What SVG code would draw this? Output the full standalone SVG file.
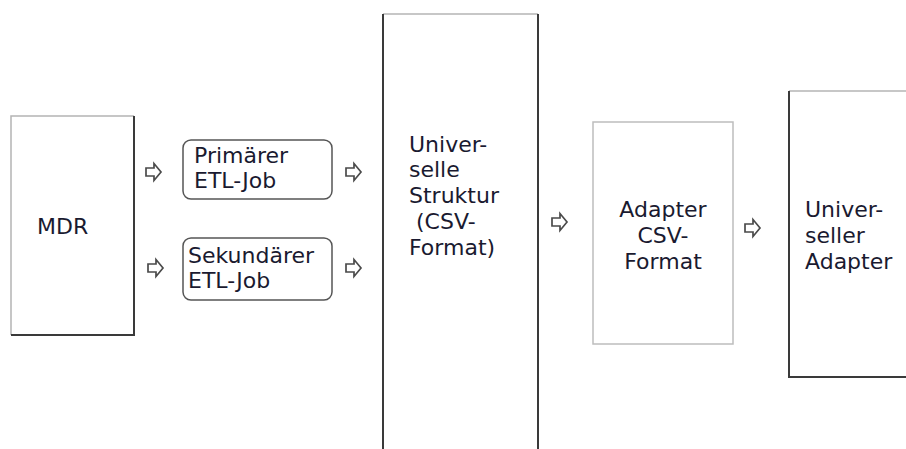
<svg xmlns="http://www.w3.org/2000/svg" width="906" height="449" viewBox="0 0 906 449">
<defs>
<style>
.t{font-family:"DejaVu Sans",Verdana,sans-serif;font-size:22px;fill:#1a1a30}
.lt{stroke:#b4b4b4;stroke-width:1.5;fill:none}
.dk{stroke:#3a3a3a;stroke-width:2;fill:none}
.rb{fill:#fff;stroke:#555;stroke-width:1.5}
.ar{fill:#fff;stroke:#4a4a4a;stroke-width:1.7;stroke-linejoin:miter}
</style>
<path id="arr" d="M0,-4 H8 V-8.5 L15,0 L8,8.5 V4 H0 Z"/>
</defs>
<rect width="906" height="449" fill="#fff"/>
<g id="mdr">
<path class="lt" d="M11,335 V116 H134"/>
<path class="dk" d="M134,116 V335 H11"/>
<text class="t" x="37" y="234">MDR</text>
</g>
<g id="primaer">
<rect class="rb" x="183" y="140" width="149" height="59" rx="8"/>
<text class="t" x="194" y="163">Primärer</text>
<text class="t" x="194" y="188">ETL-Job</text>
</g>
<g id="sekundaer">
<rect class="rb" x="183" y="238" width="149" height="62" rx="8"/>
<text class="t" x="188" y="263">Sekundärer</text>
<text class="t" x="188" y="288">ETL-Job</text>
</g>
<g id="struktur">
<path class="lt" d="M383,14 H538"/>
<path class="dk" d="M383,14 V449 M538,14 V449"/>
<text class="t" x="409" y="152">Univer-</text>
<text class="t" x="409" y="177">selle</text>
<text class="t" x="409" y="203">Struktur</text>
<text class="t" x="409" y="229" xml:space="preserve"> (CSV-</text>
<text class="t" x="409" y="255">Format)</text>
</g>
<g id="adaptercsv">
<rect x="593" y="122" width="140" height="222" fill="#fff" stroke="#bdbdbd" stroke-width="1.5"/>
<text class="t" x="663" y="217" text-anchor="middle">Adapter</text>
<text class="t" x="663" y="243" text-anchor="middle">CSV-</text>
<text class="t" x="663" y="269" text-anchor="middle">Format</text>
</g>
<g id="universeller">
<path class="lt" d="M789,91 H906"/>
<path class="dk" d="M789,91 V377 H906"/>
<text class="t" x="805" y="217">Univer-</text>
<text class="t" x="805" y="243">seller</text>
<text class="t" x="805" y="269">Adapter</text>
</g>
<g id="connectors">
<use href="#arr" class="ar" x="146" y="172"/>
<use href="#arr" class="ar" x="148" y="268"/>
<use href="#arr" class="ar" x="346" y="172"/>
<use href="#arr" class="ar" x="346" y="268"/>
<use href="#arr" class="ar" x="552" y="222"/>
<use href="#arr" class="ar" x="745" y="228"/>
</g>
</svg>
